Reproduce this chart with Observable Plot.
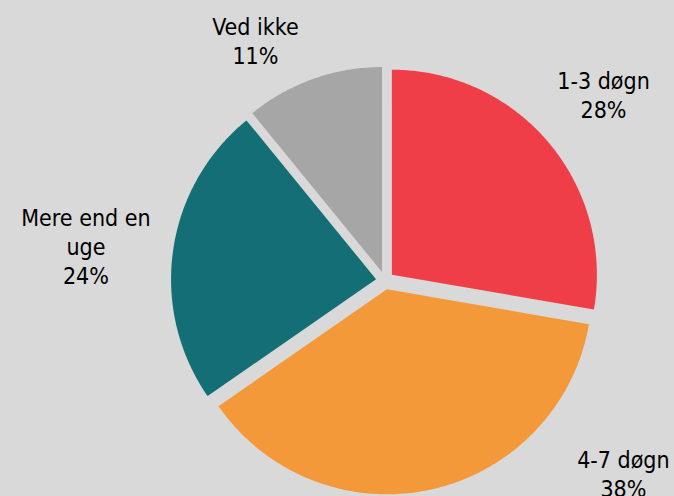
<!DOCTYPE html>
<html>
<head>
<meta charset="utf-8">
<script src="https://cdn.jsdelivr.net/npm/d3@7"></script>
<script src="https://cdn.jsdelivr.net/npm/@observablehq/plot@0.6"></script>
<style>
  html, body { margin: 0; padding: 0; background: #d9d9d9; }
  #chart { width: 674px; height: 496px; overflow: hidden; }
</style>
</head>
<body>
<div id="chart"></div>
<script>
// Data
const categories = ["1-3 døgn", "4-7 døgn", "Mere end en uge", "Ved ikke"];
const labels = ["1-3 døgn", "4-7 døgn", "Mere end en\nuge", "Ved ikke"];
const values = [28, 38, 24, 11];

// Layout (not data): label anchor points in pie-radius units, exploded offset
const labelX = [1.066, 1.163, -1.459, -0.632];
const labelY = [0.907, -0.939, 0.170, 1.170];
const explode = 0.044;

const W = 674, H = 496, R = 205, CX = 384.5, CY = 280;

const total = d3.sum(values);
const slices = [];
const rows = [];
let acc = 0;
values.forEach((v, i) => {
  const a0 = acc / total * 2 * Math.PI;
  acc += v;
  const a1 = acc / total * 2 * Math.PI;
  const mid = (a0 + a1) / 2;
  const ox = explode * Math.sin(mid), oy = explode * Math.cos(mid);
  rows.push({cat: categories[i], x: ox, y: oy});
  const n = Math.max(2, Math.ceil((a1 - a0) / (Math.PI / 360)));
  for (let k = 0; k <= n; k++) {
    const a = a0 + (a1 - a0) * k / n;
    rows.push({cat: categories[i], x: ox + Math.sin(a), y: oy + Math.cos(a)});
  }
  rows.push({cat: categories[i], x: ox, y: oy});
  slices.push({cat: categories[i], label: labels[i] + "\n" + Math.round(v) + "%", lx: labelX[i], ly: labelY[i]});
});

const chart = Plot.plot({
  width: W,
  height: H,
  margin: 0,
  style: {background: "#d9d9d9", fontFamily: "'DejaVu Sans Condensed', 'DejaVu Sans', sans-serif", fontStretch: "condensed"},
  x: {domain: [-CX / R, (W - CX) / R], axis: null},
  y: {domain: [(CY - H) / R, CY / R], axis: null},
  color: {domain: categories, range: ["#ef3e47", "#f4993a", "#136f75", "#a6a6a6"]},
  marks: [
    Plot.line(rows, {x: "x", y: "y", z: "cat", fill: "cat", stroke: "none", curve: "linear"}),
    Plot.text(slices, {x: "lx", y: "ly", text: "label", fontSize: 23, lineHeight: 1.26, fill: "#000", textAnchor: "middle", lineAnchor: "middle"})
  ]
});
document.getElementById("chart").appendChild(chart);
</script>
</body>
</html>
